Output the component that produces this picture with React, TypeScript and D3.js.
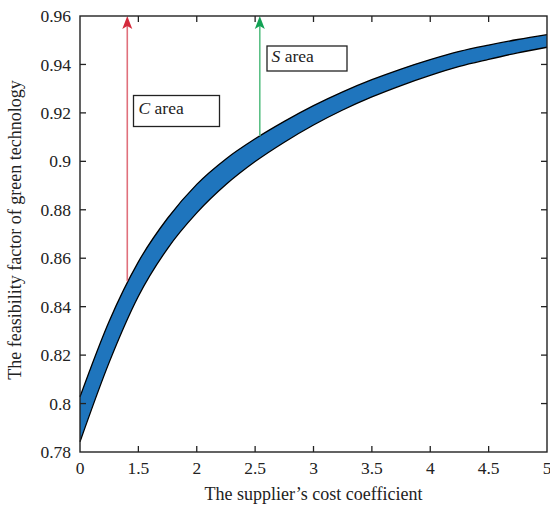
import React from "react";
import * as d3 from "d3";

const xValues = [1.0, 1.25, 1.5, 1.75, 2.0, 2.25, 2.5, 2.75, 3.0, 3.25, 3.5, 3.75, 4.0, 4.25, 4.5, 4.75, 5.0];
const upperValues = [0.8028, 0.8340, 0.8585, 0.8765, 0.8905, 0.9010, 0.9093, 0.9165, 0.9230, 0.9287, 0.9337, 0.9381, 0.9420, 0.9454, 0.9480, 0.9503, 0.9523];
const lowerValues = [0.7842, 0.8170, 0.8443, 0.8640, 0.8787, 0.8904, 0.8999, 0.9079, 0.9150, 0.9212, 0.9266, 0.9313, 0.9355, 0.9392, 0.9421, 0.9448, 0.9471];
const xTickValues = [1, 1.5, 2, 2.5, 3, 3.5, 4, 4.5, 5];
const xTickLabels = ["0", "1.5", "2", "2.5", "3", "3.5", "4", "4.5", "5"];
const yTickValues = [0.78, 0.8, 0.82, 0.84, 0.86, 0.88, 0.9, 0.92, 0.94, 0.96];
const yTickLabels = ["0.78", "0.8", "0.82", "0.84", "0.86", "0.88", "0.9", "0.92", "0.94", "0.96"];
const arrowC = { x: 1.405, yFrom: 0.8505, yTo: 0.96 };
const arrowS = { x: 2.54, yFrom: 0.9105, yTo: 0.96 };
const xTitle = "The supplier\u2019s cost coefficient";
const yTitle = "The feasibility factor of green technology";

const W = 550, H = 506;
const L = 80, R = 547, T = 16, B = 452;
const FONT = "'Liberation Serif', 'DejaVu Serif', serif";

export default function App() {
  const x = d3.scaleLinear().domain([1, 5]).range([L, R]);
  const y = d3.scaleLinear().domain([0.78, 0.96]).range([B, T]);
  const pts = xValues.map((v, i) => ({ x: v, u: upperValues[i], l: lowerValues[i] }));
  const area = d3.area<any>().x(d => x(d.x)).y0(d => y(d.l)).y1(d => y(d.u)).curve(d3.curveMonotoneX);
  const upperLine = d3.line<any>().x(d => x(d.x)).y(d => y(d.u)).curve(d3.curveMonotoneX);
  const lowerLine = d3.line<any>().x(d => x(d.x)).y(d => y(d.l)).curve(d3.curveMonotoneX);
  const tick = 6;

  const arrow = (a: typeof arrowC, lineColor: string, headColor: string) => {
    const ax = x(a.x);
    const top = y(a.yTo);
    return (
      <g>
        <line x1={ax} x2={ax} y1={y(a.yFrom)} y2={top + 8} stroke={lineColor} strokeWidth={1.6} />
        <path d={`M${ax},${top} L${ax - 5},${top + 13} L${ax},${top + 10} L${ax + 5},${top + 13} Z`} fill={headColor} />
      </g>
    );
  };

  return (
    <svg width={W} height={H} style={{ position: "absolute", left: 0, top: 0, background: "#fff" }} fontFamily={FONT}>
      <rect x={0} y={0} width={W} height={H} fill="#fff" />
      <path d={area(pts) || ""} fill="#1f75bd" />
      <path d={upperLine(pts) || ""} fill="none" stroke="#000" strokeWidth={1.3} />
      <path d={lowerLine(pts) || ""} fill="none" stroke="#000" strokeWidth={1.3} />
      {arrow(arrowC, "#e0707c", "#d42a3c")}
      {arrow(arrowS, "#5cc086", "#12a255")}
      <rect x={L} y={T} width={R - L} height={B - T} fill="none" stroke="#222" strokeWidth={1.4} />
      {xTickValues.map((v, i) => (
        <g key={"xt" + i}>
          {i > 0 && i < xTickValues.length - 1 && (
            <>
              <line x1={x(v)} x2={x(v)} y1={B} y2={B - tick} stroke="#222" strokeWidth={1.3} />
              <line x1={x(v)} x2={x(v)} y1={T} y2={T + tick} stroke="#222" strokeWidth={1.3} />
            </>
          )}
          <text x={x(v)} y={474} textAnchor="middle" fontSize={17.5} fill="#222">{xTickLabels[i]}</text>
        </g>
      ))}
      {yTickValues.map((v, i) => (
        <g key={"yt" + i}>
          {i > 0 && i < yTickValues.length - 1 && (
            <>
              <line x1={L} x2={L + tick} y1={y(v)} y2={y(v)} stroke="#222" strokeWidth={1.3} />
              <line x1={R} x2={R - tick} y1={y(v)} y2={y(v)} stroke="#222" strokeWidth={1.3} />
            </>
          )}
          <text x={L - 9} y={y(v)} dy="0.35em" textAnchor="end" fontSize={17.5} fill="#222">{yTickLabels[i]}</text>
        </g>
      ))}
      <rect x={133.5} y={95.5} width={86} height={31} fill="#fff" stroke="#222" strokeWidth={1.3} />
      <text x={138.5} y={113.5} fontSize={17.5} fill="#222"><tspan fontStyle="italic">C</tspan> area</text>
      <rect x={267} y={46} width={80} height={25} fill="#fff" stroke="#222" strokeWidth={1.3} />
      <text x={271.5} y={62} fontSize={17.5} fill="#222"><tspan fontStyle="italic">S</tspan> area</text>
      <text x={(L + R) / 2} y={500} textAnchor="middle" fontSize={18} fill="#222">{xTitle}</text>
      <text transform={`translate(21,${(T + B) / 2 - 4}) rotate(-90)`} textAnchor="middle" fontSize={18} fill="#222">{yTitle}</text>
    </svg>
  );
}
